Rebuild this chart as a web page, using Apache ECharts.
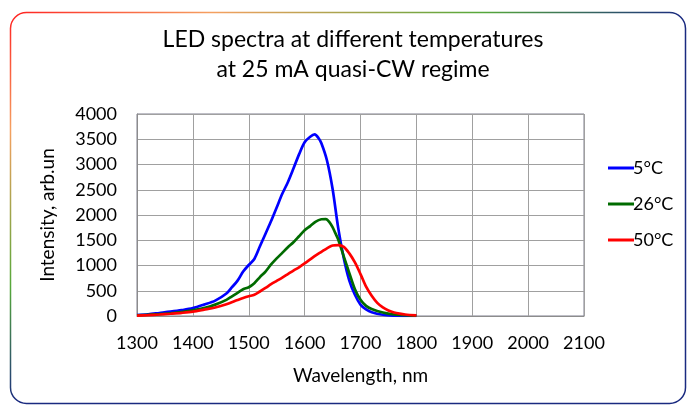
<!DOCTYPE html>
<html><head><meta charset="utf-8">
<script src="https://cdn.jsdelivr.net/npm/echarts@6/dist/echarts.min.js"></script>
<style>html,body{margin:0;padding:0;background:#fff}#c{width:687px;height:405px}</style>
</head><body><div id="c"></div>
<script>
const titleLines = ["LED spectra at different temperatures", "at 25 mA quasi-CW regime"];
const xTicks = [1300, 1400, 1500, 1600, 1700, 1800, 1900, 2000, 2100];
const yTicks = [0, 500, 1000, 1500, 2000, 2500, 3000, 3500, 4000];
const seriesNames = ["5°C", "26°C", "50°C"];

const wl5 = [1300,1320,1340,1360,1380,1400,1420,1440,1460,1470,1480,1490,1500,1510,1520,1530,1540,1550,1560,1570,1580,1590,1600,1610,1618,1625,1630,1640,1650,1660,1670,1680,1690,1700,1710,1720,1740,1760,1780,1800];
const int5 = [20,35,60,85,115,155,225,305,445,570,700,880,1010,1130,1380,1630,1880,2150,2420,2650,2920,3200,3440,3550,3595,3520,3420,3080,2520,1750,1150,700,420,225,130,75,25,8,3,0];

const wl26 = [1300,1320,1340,1360,1380,1400,1420,1440,1460,1470,1480,1490,1500,1510,1520,1530,1540,1550,1560,1570,1580,1590,1600,1610,1620,1630,1638,1645,1650,1655,1660,1670,1680,1690,1700,1710,1720,1740,1760,1780,1800];
const int26 = [13,25,38,55,78,110,155,225,320,390,460,530,570,650,770,880,1020,1140,1250,1360,1460,1580,1700,1780,1870,1915,1920,1850,1760,1640,1520,1180,850,530,320,200,140,70,30,15,7];

const wl50 = [1300,1320,1340,1360,1380,1400,1420,1440,1460,1480,1490,1500,1510,1520,1530,1540,1550,1560,1570,1580,1590,1600,1610,1620,1630,1640,1650,1660,1670,1680,1690,1700,1710,1720,1730,1740,1750,1760,1770,1780,1800];
const int50 = [7,18,30,45,62,85,125,168,232,315,355,390,420,485,555,630,695,760,830,900,965,1040,1120,1200,1270,1340,1395,1405,1370,1240,1060,830,580,400,260,170,110,70,46,30,13];

const colors = ["#0000ff", "#006b00", "#ff0000"];
const FONT = "Lato";

function pairs(xs, ys){ return xs.map((x,i)=>[x, ys[i]]); }
const dataSets = [pairs(wl5,int5), pairs(wl26,int26), pairs(wl50,int50)];

const chart = echarts.init(document.getElementById('c'));
chart.setOption({
  animation: false,
  textStyle: { fontFamily: FONT },
  graphic: [{
    type: 'rect', z: -1,
    shape: { x: 10.5, y: 12.5, width: 675, height: 391, r: 16 },
    style: {
      fill: 'none', lineWidth: 1.5,
      stroke: { type: 'linear', x: 10, y: 12, x2: 181, y2: 306, global: true,
        colorStops: [
          { offset: 0, color: '#ff2020' },
          { offset: 0.3, color: '#f5a060' },
          { offset: 0.7, color: '#55a83a' },
          { offset: 1, color: '#1a2a80' }
        ] }
    }
  }],
  title: {
    text: titleLines.join('\n'),
    left: 348, top: 20, textAlign: 'center',
    textStyle: { fontFamily: FONT, fontSize: 23, fontWeight: 'normal', color: '#000', lineHeight: 30 }
  },
  legend: {
    orient: 'vertical', left: 603, top: 152, itemGap: 14,
    itemWidth: 26, itemHeight: 3, icon: 'rect',
    textStyle: { fontFamily: FONT, fontSize: 18, color: '#000', lineHeight: 22, padding: [0,0,0,-6] },
    data: seriesNames
  },
  grid: { left: 137, top: 114, width: 447, height: 202, show: true, borderColor: '#7f7f8f', borderWidth: 1 },
  xAxis: {
    type: 'value', min: xTicks[0], max: xTicks[xTicks.length-1], interval: 100,
    name: 'Wavelength, nm', nameLocation: 'middle', nameGap: 50,
    nameTextStyle: { fontFamily: FONT, fontSize: 19, color: '#000' },
    axisLine: { lineStyle: { color: '#8c8c8c' } },
    axisTick: { show: false },
    axisLabel: { fontFamily: FONT, fontSize: 18, color: '#000', margin: 18, formatter: v => String(v) },
    splitLine: { lineStyle: { color: '#a0a0a0' } }
  },
  yAxis: {
    type: 'value', min: yTicks[0], max: yTicks[yTicks.length-1], interval: 500,
    name: 'Intensity, arb.un', nameLocation: 'middle', nameGap: 80,
    nameTextStyle: { fontFamily: FONT, fontSize: 19, color: '#000' },
    axisLine: { show: true, lineStyle: { color: '#8c8c8c' } },
    axisTick: { show: false },
    axisLabel: { fontFamily: FONT, fontSize: 18, color: '#000', margin: 20, formatter: v => String(v) },
    splitLine: { lineStyle: { color: '#a0a0a0' } }
  },
  series: seriesNames.map((n,i)=>({
    name: n, type: 'line', data: dataSets[i], smooth: 0.3, showSymbol: false, symbol: 'none',
    lineStyle: { color: colors[i], width: 2.7 }, itemStyle: { color: colors[i] }
  }))
});
</script></body></html>
